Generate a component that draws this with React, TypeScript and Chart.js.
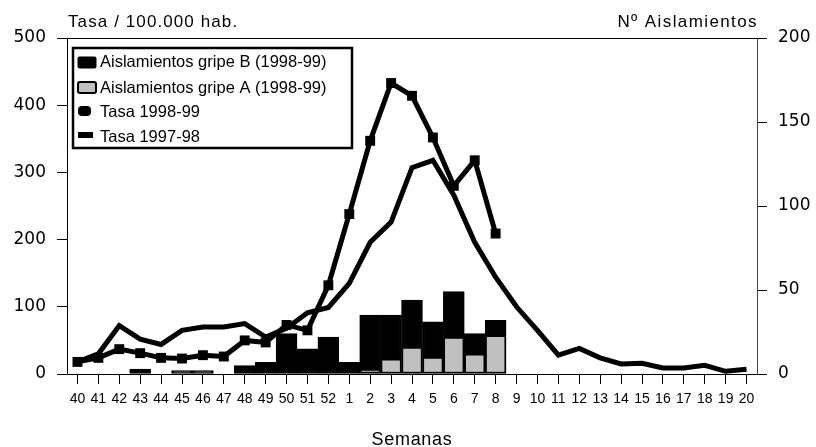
import React, { useEffect, useRef } from 'react';
import { Chart, registerables } from 'chart.js';

Chart.register(...registerables);

const weeks = ['40', '41', '42', '43', '44', '45', '46', '47', '48', '49', '50', '51', '52', '1', '2', '3', '4', '5', '6', '7', '8', '9', '10', '11', '12', '13', '14', '15', '16', '17', '18', '19', '20'];

const tasa9899 = [18, 24, 37, 31, 24, 23, 28, 26, 50, 47, 73, 65, 132, 238, 347, 433, 414, 352, 280, 318, 209, null, null, null, null, null, null, null, null, null, null, null, null];

const tasa9798 = [18, 30, 72, 52, 44, 65, 70, 70, 75, 55, 68, 91, 99, 135, 196, 226, 307, 318, 266, 196, 144, 100, 65, 28, 38, 24, 15, 16, 9, 9, 13, 4, 7];

const gripeA = [null, null, null, null, null, null, null, null, null, null, null, null, null, null, 3, 9, 16, 10, 22, 12, 23, null, null, null, null, null, null, null, null, null, null, null, null];

const gripeB = [null, null, null, 3, null, 2, 2, null, 5, 7, 24, 15, 22, 7, 32, 26, 28, 21, 27, 12, 9, null, null, null, null, null, null, null, null, null, null, null, null];

const legendLabels = ['Aislamientos gripe B (1998-99)', 'Aislamientos gripe A (1998-99)', 'Tasa 1998-99', 'Tasa 1997-98'];
const leftTitle = 'Tasa / 100.000 hab.';
const rightTitle = 'Nº Aislamientos';
const xTitle = 'Semanas';

export default function App() {
  const ref = useRef<HTMLCanvasElement>(null);

  useEffect(() => {
    const canvas = ref.current;
    if (!canvas) return;

    const extras = {
      id: 'extras',
      beforeDatasetsDraw(chart: any) {
        const { ctx, chartArea } = chart;
        ctx.save();
        ctx.strokeStyle = '#000';
        ctx.lineWidth = 1;
        ctx.beginPath();
        ctx.moveTo(chartArea.left, chartArea.top + 0.5);
        ctx.lineTo(chartArea.right, chartArea.top + 0.5);
        ctx.stroke();
        ctx.restore();
      },
      afterDraw(chart: any) {
        const { ctx, chartArea } = chart;
        const L = chartArea.left;
        const T = chartArea.top;
        ctx.save();
        // titles
        ctx.fillStyle = '#000';
        ctx.textBaseline = 'alphabetic';
        ctx.font = '17px "Liberation Sans"';
        (ctx as any).letterSpacing = '1.1px';
        ctx.textAlign = 'left';
        ctx.fillText(leftTitle, 68, 27);
        (ctx as any).letterSpacing = '1.4px';
        ctx.textAlign = 'right';
        ctx.fillText(rightTitle, chartArea.right + 1, 27);
        ctx.font = '18px "Liberation Sans"';
        (ctx as any).letterSpacing = '0.7px';
        ctx.textAlign = 'center';
        ctx.fillText(xTitle, (chartArea.left + chartArea.right) / 2, 445);
        (ctx as any).letterSpacing = '0px';

        // legend box
        const bx = L + 6;
        const by = T + 10;
        ctx.fillStyle = '#fff';
        ctx.fillRect(bx, by, 279, 100);
        ctx.lineWidth = 2.5;
        ctx.strokeStyle = '#000';
        ctx.strokeRect(bx, by, 279, 100);

        // symbols
        ctx.fillStyle = '#000';
        ctx.beginPath();
        (ctx as any).roundRect(L + 10.5, T + 18.5, 19, 12, 2);
        ctx.fill();

        ctx.beginPath();
        (ctx as any).roundRect(L + 11, T + 44, 18, 11, 2);
        ctx.fillStyle = '#c0c0c0';
        ctx.fill();
        ctx.lineWidth = 2;
        ctx.strokeStyle = '#000';
        ctx.stroke();

        ctx.fillStyle = '#000';
        ctx.beginPath();
        (ctx as any).roundRect(L + 11, T + 68, 13, 10, 4);
        ctx.fill();

        ctx.fillRect(L + 11, T + 94, 15, 6);

        ctx.font = '16.5px "Liberation Sans"';
        ctx.textAlign = 'left';
        const baselines = [29, 54.5, 78.5, 103.5];
        legendLabels.forEach((t, i) => {
          ctx.fillText(t, L + 33, T + baselines[i]);
        });
        ctx.restore();
      },
    };

    const tickFont = { family: '"DejaVu Sans"', size: 17 };

    const chart = new Chart(canvas, {
      type: 'bar',
      data: {
        labels: weeks,
        datasets: [
          {
            type: 'line',
            label: legendLabels[2],
            data: tasa9899,
            yAxisID: 'y',
            borderColor: '#000',
            backgroundColor: '#000',
            borderWidth: 5,
            pointStyle: 'rect',
            pointRadius: 7,
            pointBorderWidth: 0,
            pointBackgroundColor: '#000',
            tension: 0,
            order: 0,
          } as any,
          {
            type: 'line',
            label: legendLabels[3],
            data: tasa9798,
            yAxisID: 'y',
            borderColor: '#000',
            backgroundColor: '#000',
            borderWidth: 5,
            pointRadius: 0,
            tension: 0,
            order: 1,
          } as any,
          {
            type: 'bar',
            label: legendLabels[1],
            data: gripeA,
            yAxisID: 'y1',
            backgroundColor: '#c0c0c0',
            borderColor: '#000',
            borderWidth: 2,
            borderSkipped: false,
            barPercentage: 1,
            categoryPercentage: 1,
            stack: 's',
            order: 2,
          } as any,
          {
            type: 'bar',
            label: legendLabels[0],
            data: gripeB,
            yAxisID: 'y1',
            backgroundColor: '#000',
            borderColor: '#000',
            borderWidth: 2,
            borderSkipped: false,
            barPercentage: 1,
            categoryPercentage: 1,
            stack: 's',
            order: 2,
          } as any,
        ],
      },
      options: {
        responsive: false,
        animation: false,
        events: [],
        layout: { padding: { top: 38, left: 0, right: 0, bottom: 0 } },
        plugins: { legend: { display: false }, tooltip: { enabled: false } },
        scales: {
          x: {
            stacked: true,
            offset: true,
            grid: { display: true, drawOnChartArea: false, drawTicks: true, tickLength: 10, color: '#000', offset: false },
            border: { display: true, color: '#000', width: 1 },
            ticks: { font: { family: '"Liberation Sans"', size: 14 }, color: '#000', padding: 7, maxRotation: 0, autoSkip: false },
            afterFit(s: any) { s.height = 73; },
          },
          y: {
            position: 'left',
            min: 0,
            max: 500,
            ticks: { stepSize: 100, font: tickFont, color: '#000', padding: 11 },
            grid: { drawOnChartArea: false, tickLength: 10, color: '#000' },
            border: { color: '#000' },
            afterFit(s: any) { s.width = 67; },
          },
          y1: {
            position: 'right',
            stacked: true,
            min: 0,
            max: 200,
            ticks: { stepSize: 50, font: tickFont, color: '#000', padding: 11 },
            grid: { drawOnChartArea: false, tickLength: 10, color: '#000' },
            border: { color: '#444' },
            afterFit(s: any) { s.width = 59; },
          },
        },
      } as any,
      plugins: [extras],
    });

    return () => chart.destroy();
  }, []);

  return (
    <div style={{ position: 'absolute', left: 0, top: 0, width: 816, height: 447, background: '#fff' }}>
      <canvas ref={ref} width={816} height={447} style={{ display: 'block' }} />
    </div>
  );
}
